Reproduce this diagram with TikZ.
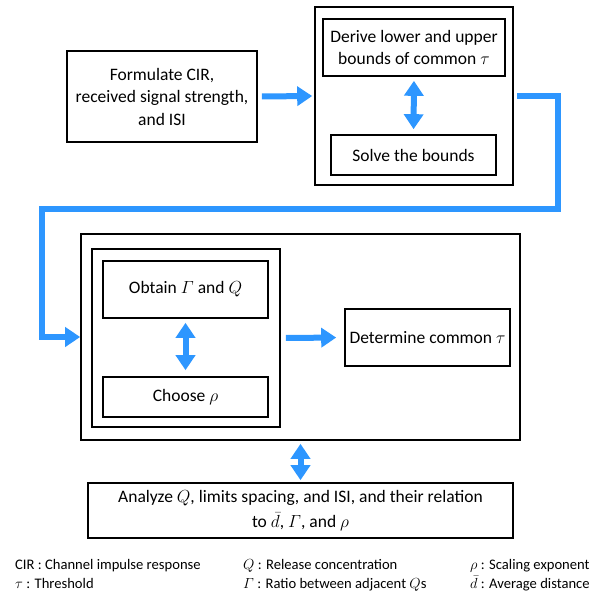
\documentclass[tikz,border=0pt]{standalone}
\usepackage{fix-cm}
\usepackage{amsmath}
\usepackage{fontspec}
\setmainfont{Carlito}
\usetikzlibrary{arrows.meta,positioning}
\definecolor{flowblue}{RGB}{45,150,255}
\tikzset{
  box/.style={draw,line width=1.6pt,align=center,inner sep=0pt,
    font=\fontsize{17.5}{22.5}\selectfont},
  flow/.style={draw=flowblue,line width=6pt,
    -{Triangle[width=19pt,length=15pt]}},
  both/.style={draw=flowblue,line width=6pt,
    {Triangle[width=19pt,length=15pt]}-{Triangle[width=19pt,length=15pt]}},
  legend/.style={anchor=base west,inner sep=0pt,
    font=\fontsize{14.6}{18}\selectfont},
}
\begin{document}
\begin{tikzpicture}[x=1pt,y=-1pt]
  \useasboundingbox (0,0) rectangle (612,592);
  \node[box,minimum width=190pt,minimum height=91pt] (form) at (162,96.5)
    {Formulate CIR,\\received signal strength,\\and ISI};
  \node[box,minimum width=198pt,minimum height=178pt] (outerA) at (414,96) {};
  \node[box,minimum width=182pt,minimum height=57pt] (derive) at (414,47.5)
    {Derive lower and upper\\bounds of common $\tau$};
  \node[box,minimum width=165pt,minimum height=40pt] (solve) at (413.5,155)
    {Solve the bounds};
  \node[box,minimum width=439pt,minimum height=206pt] (outerB) at (300.5,337) {};
  \node[box,minimum width=188pt,minimum height=178pt] (inner) at (186,338) {};
  \node[box,minimum width=165pt,minimum height=57pt] (obtain) at (185.5,289.5)
    {Obtain $\varGamma$ and $Q$};
  \node[box,minimum width=165pt,minimum height=40pt] (choose) at (185.5,397)
    {Choose $\rho$};
  \node[box,minimum width=165pt,minimum height=57pt] (determine) at (427.5,337.5)
    {Determine common $\tau$};
  \node[box,minimum width=425pt,minimum height=55pt,
    font=\fontsize{17.5}{24.5}\selectfont] (analyze) at (300.5,510.5)
    {Analyze $Q$, limits spacing, and ISI, and their relation\\to $\bar{d}$, $\varGamma$, and $\rho$};
  \coordinate (turnA) at (558,209);
  \coordinate (turnB) at (42,209);
  \draw[flow,shorten <=4pt,shorten >=2pt] (form.east) -- (outerA.west);
  \draw[both,shorten <=4pt,shorten >=5pt] (derive.south) -- (solve.north);
  \draw[flow,shorten <=3pt,line join=miter] (outerA.east) -| (turnA) -- (turnB) |- (outerB.west);
  \draw[both,shorten <=4pt,shorten >=6pt] (obtain.south) -- (choose.north);
  \draw[flow,shorten <=5pt,shorten >=8pt] (inner.east) -- (determine.west);
  \draw[both,shorten <=3pt,shorten >=2pt] (outerB.south) -- (analyze.north);
  \node[legend] (lgA) at (15,569) {CIR : Channel impulse response};
  \node[legend] (lgB) at (15,588) {$\tau$ : Threshold};
  \node[legend] (lgC) at (243,569) {$Q$ : Release concentration};
  \node[legend] (lgD) at (243,588) {$\varGamma$ : Ratio between adjacent $Q$s};
  \node[legend] (lgE) at (470,569) {$\rho$ : Scaling exponent};
  \node[legend] (lgF) at (470,588) {$\bar{d}$ : Average distance};
\end{tikzpicture}
\end{document}
